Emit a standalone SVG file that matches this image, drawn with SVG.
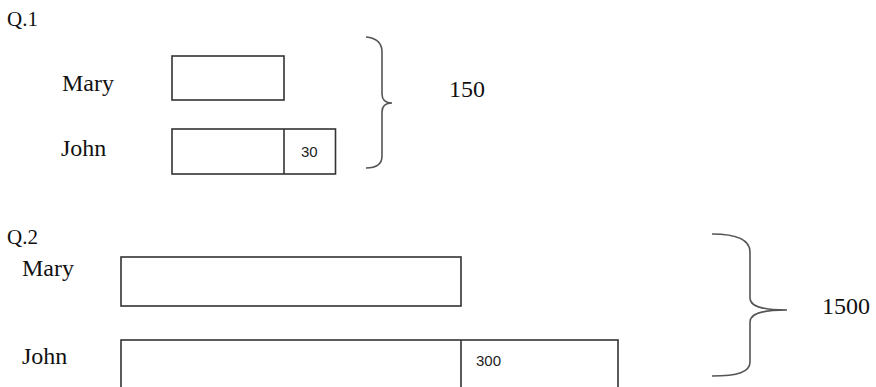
<svg xmlns="http://www.w3.org/2000/svg" width="876" height="387" viewBox="0 0 876 387">
<style>
.lbl{font-family:"Liberation Serif","Times New Roman",serif;fill:#111;font-size:24px}
.q{font-family:"Liberation Serif","Times New Roman",serif;fill:#111;font-size:21px}
.num{font-family:"Liberation Sans",Arial,sans-serif;fill:#222;font-size:15px}
.box{fill:#fff;stroke:#333;stroke-width:1.6}
.brace{fill:none;stroke:#555;stroke-width:1.6}
</style>
<rect width="876" height="387" fill="#fff"/>
<g id="q1">
<text class="q" x="7" y="26">Q.1</text>
<g id="q1-mary">
<text class="lbl" x="62" y="91">Mary</text>
<rect class="box" x="172" y="56" width="112" height="44"/>
</g>
<g id="q1-john">
<text class="lbl" x="61" y="156">John</text>
<rect class="box" x="172" y="129" width="163.5" height="45"/>
<line class="box" x1="284" y1="129" x2="284" y2="174"/>
<text class="num" x="301" y="157">30</text>
</g>
<g id="q1-total">
<text class="lbl" x="449" y="97">150</text>
</g>
</g>
<g id="q2">
<text class="q" x="7" y="244">Q.2</text>
<g id="q2-mary">
<text class="lbl" x="22" y="276">Mary</text>
<rect class="box" x="121" y="257" width="340" height="49"/>
</g>
<g id="q2-john">
<text class="lbl" x="22" y="364">John</text>
<rect class="box" x="121" y="340" width="497" height="60"/>
<line class="box" x1="461" y1="340" x2="461" y2="387"/>
<text class="num" x="476" y="366">300</text>
</g>
<g id="q2-total">
<text class="lbl" x="822" y="314">1500</text>
</g>
</g>
<g id="connectors">
<path class="brace" d="M366,37 C376,38 382,42 382,52 L382,94 C382,100 385,103 392,103 C385,103 382,106 382,112 L382,156 C382,165 376,168 366,168"/>
<path class="brace" d="M712,234 C738,234 750,240 750,252 L750,298 C750,306 760,310 787,310 C760,310 750,314 750,322 L750,362 C750,372 738,376 712,376"/>
</g>
</svg>
